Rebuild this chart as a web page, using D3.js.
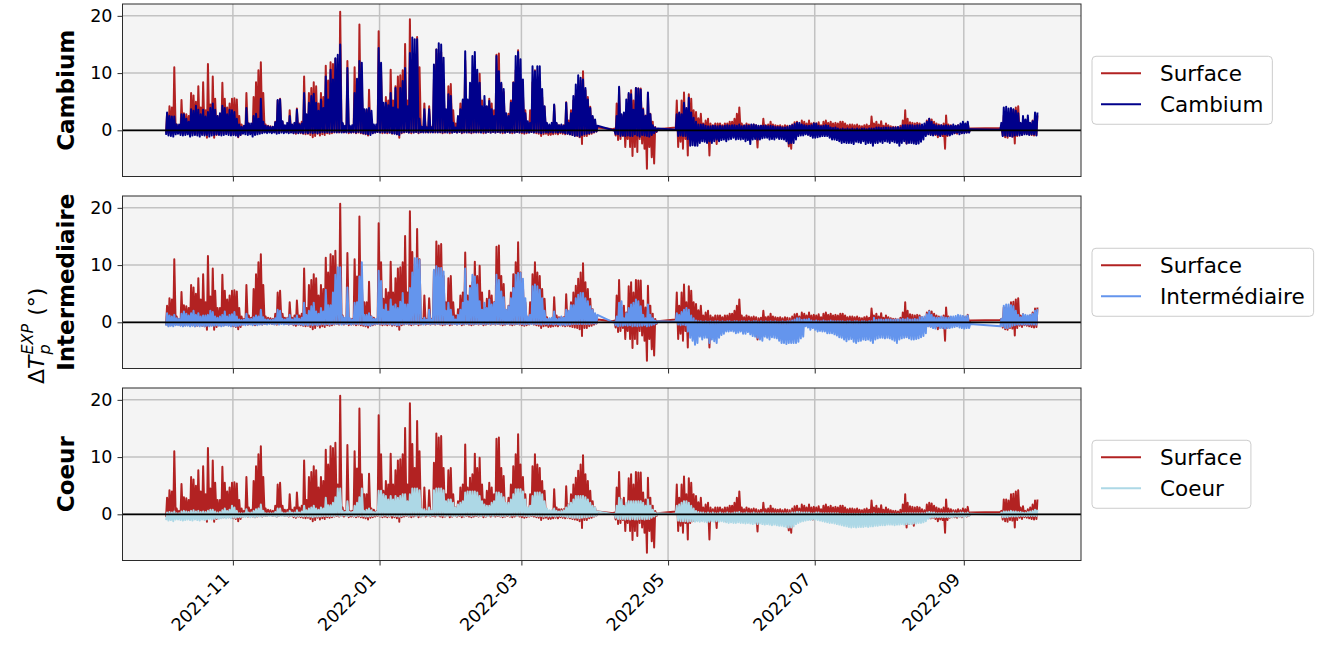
<!DOCTYPE html>
<html>
<head>
<meta charset="utf-8">
<script src="https://cdn.jsdelivr.net/npm/d3@7"></script>
<style>
  body { margin: 0; background: #ffffff; }
  text { font-family: "DejaVu Sans", sans-serif; }
</style>
</head>
<body>
<svg id="chart" width="1319" height="649"></svg>
<script>
// Daily extremes of the temperature difference (°) for each sensor depth,
// one value per day starting at startDate; null = no recording that day.
const startDate = "2021-10-04";

const surfaceMax = [
  2.9,4.2,4.0,11.0,1.0,0.6,5.3,3.0,2.8,2.5,
  6.5,6.1,5.0,7.7,4.0,8.4,3.5,11.6,4.5,9.4,
  5.5,2.5,2.5,8.3,5.5,4.0,4.7,5.5,5.6,5.4,
  2.5,1.0,0.6,6.5,1.2,0.8,5.8,8.4,10.5,11.9,
  6.5,1.0,0.8,0.7,0.6,1.5,5.2,5.5,1.5,0.8,
  0.8,3.5,0.8,1.2,3.8,1.2,1.5,9.4,2.5,6.5,
  7.4,8.4,7.7,4.7,6.5,5.8,11.3,8.7,11.9,11.6,
  12.5,5.2,20.7,1.2,0.6,12.1,0.6,0.6,11.0,8.0,
  18.5,7.0,3.5,3.5,7.1,1.0,0.8,0.5,17.3,10.5,
  4.1,5.8,5.2,10.6,5.2,7.7,9.4,9.6,10.5,15.1,
  5.2,19.4,12.3,8.1,16.3,11.0,0.6,4.7,0.6,4.2,
  0.6,9.0,14.1,13.4,13.7,8.1,3.5,7.7,8.1,3.5,
  1.2,2.3,4.7,5.2,12.2,4.7,6.4,7.0,10.6,8.1,
  9.9,5.2,2.6,4.1,5.5,4.7,3.5,13.2,13.4,8.1,
  6.7,1.7,2.9,5.2,8.4,10.5,14.0,8.7,6.5,3.5,
  0.6,3.5,8.4,10.5,8.7,8.1,5.8,4.1,0.9,0.4,
  0.6,4.4,1.2,0.9,0.9,0.9,4.9,1.7,3.5,5.2,
  6.4,7.6,8.7,10.3,7.0,5.8,4.1,2.3,1.2,0.5,
  null,null,null,null,null,null,0.3,4.7,7.4,2.6,
  2.9,1.7,6.3,7.0,5.2,7.4,7.3,7.3,3.8,2.6,
  6.4,2.9,1.5,0.6,0.2,null,null,null,null,null,
  null,null,5.2,2.9,5.2,6.6,3.5,6.3,5.5,3.5,
  3.2,2.1,2.9,1.2,1.7,2.0,1.2,0.9,1.2,1.2,
  1.2,0.9,1.2,1.2,1.5,1.5,2.0,2.9,4.0,1.2,
  0.9,1.2,1.0,0.9,1.0,0.9,0.7,0.8,2.0,0.9,
  1.0,1.5,1.0,0.9,0.8,0.9,0.7,0.9,0.8,0.7,
  1.0,1.4,1.5,1.0,1.7,1.5,1.2,1.7,1.2,1.3,
  1.2,1.4,0.9,1.5,1.7,1.3,1.5,1.2,1.3,1.2,
  1.5,1.5,1.2,0.9,1.0,1.0,0.9,1.0,0.8,0.7,
  0.9,1.0,0.8,2.4,1.2,1.5,1.0,1.6,0.8,1.2,
  0.9,0.7,0.6,0.6,0.5,0.8,1.7,3.5,2.0,1.4,
  1.3,1.2,1.3,1.2,0.9,0.7,1.7,2.0,1.9,1.5,
  1.2,1.0,0.9,1.2,2.6,1.0,0.9,0.7,0.7,0.9,
  0.7,1.0,0.9,1.3,0.3,null,null,null,null,null,
  null,null,null,null,null,null,null,0.6,2.6,2.6,
  2.4,3.5,3.6,4.0,4.2,1.2,1.4,0.6,0.9,1.2,
  1.7,2.4,2.6
];
const surfaceMin = [
  -0.5,-0.6,-0.4,-0.5,-0.4,-0.3,-0.5,-0.6,-0.5,-0.4,
  -0.6,-0.5,-0.7,-0.6,-0.5,-0.6,-0.7,-1.3,-0.6,-0.5,
  -1.3,-0.8,-0.5,-0.6,-0.5,-0.4,-0.5,-0.6,-0.7,-0.8,
  -1.2,-0.8,-0.4,-0.3,-0.4,-0.3,-0.4,-0.5,-0.4,-0.3,
  -0.4,-0.3,-0.3,-0.2,-0.3,-0.3,-0.4,-0.3,-0.2,-0.3,
  -0.3,-0.4,-0.3,-0.5,-0.6,-0.4,-0.5,-0.6,-0.7,-0.6,
  -0.8,-1.2,-1.0,-0.6,-0.9,-0.7,-0.8,-0.5,-0.6,-0.5,
  -0.4,-0.3,-0.4,-0.3,-0.4,-0.3,-0.5,-0.4,-0.4,-0.5,
  -0.4,-0.5,-0.6,-0.7,-0.9,-0.6,-0.5,-0.4,-0.3,-0.4,
  -0.5,-0.4,-0.5,-0.4,-0.6,-0.5,-0.7,-1.3,-0.5,-0.4,
  -0.3,-0.4,-0.5,-0.4,-0.3,-0.5,-0.4,-0.3,-0.4,-0.3,
  -0.4,-0.3,-0.4,-0.3,-0.4,-0.5,-0.4,-0.3,-0.5,-0.4,
  -0.3,-0.4,-0.3,-0.5,-0.4,-0.3,-0.4,-0.5,-0.4,-0.3,
  -0.4,-0.3,-0.5,-0.4,-0.3,-0.4,-0.3,-0.4,-0.3,-0.4,
  -0.5,-0.4,-0.3,-0.4,-0.5,-0.4,-0.3,-0.4,-0.5,-0.6,
  -0.5,-0.4,-0.3,-0.4,-0.5,-0.6,-1.0,-0.7,-0.6,-0.8,
  -0.8,-0.7,-0.6,-0.7,-0.5,-0.6,-0.7,-0.6,-0.7,-0.8,
  -0.9,-1.0,-1.2,-2.4,-1.0,-1.0,-0.7,-0.6,-0.4,-0.2,
  null,null,null,null,null,null,0.2,-0.9,-1.7,-1.5,
  -1.0,-2.9,-1.5,-2.9,-4.5,-2.9,-3.8,-1.5,-2.3,-3.2,
  -6.7,-2.9,-4.7,-5.8,-0.3,null,null,null,null,null,
  null,null,0.5,-2.9,-2.0,-3.2,-1.5,-4.4,-1.5,-1.2,
  -0.9,-1.0,-0.5,-1.0,-0.6,-0.8,-4.4,-0.8,-0.6,-2.4,
  -0.5,-0.4,-0.6,-1.2,-0.6,-0.5,-0.4,-0.5,-0.6,-0.5,
  -0.6,-0.4,-0.7,-0.5,-0.4,-0.6,-3.0,-0.5,-0.4,-0.5,
  -0.4,-0.6,-0.5,-0.4,-0.5,-0.6,-0.5,-0.7,-0.6,-2.8,
  -3.2,-0.7,-0.5,-0.4,-0.6,-0.5,-0.4,-0.7,-0.8,-0.9,
  -0.6,-0.5,-0.4,-0.4,-0.5,-0.4,-0.4,-0.5,-0.4,-0.5,
  -0.4,-0.3,-0.4,-0.3,-0.4,-0.3,-0.4,-0.3,-0.4,-0.3,
  -0.4,-0.3,-0.4,-0.3,-0.4,-0.3,-0.4,-0.3,-0.4,-0.5,
  -0.4,-0.5,-0.6,-0.5,-0.6,-0.8,-1.2,-0.9,-2.3,-1.7,
  -0.8,-2.0,-1.0,-0.9,-1.2,-0.8,-0.7,-0.6,-0.7,-0.6,
  -0.8,-1.2,-0.9,-1.0,-3.2,-1.0,-0.6,-0.5,-0.5,-0.6,
  -0.4,-0.5,-0.3,-0.4,-0.3,null,null,null,null,null,
  null,null,null,null,null,null,null,0.4,-0.9,-1.2,
  -1.3,-1.0,-1.1,-2.3,-1.0,-0.6,-0.8,-0.5,-0.6,-0.7,
  -0.8,-0.9,-0.8
];

const cambiumMax = [
  3.1,2.5,2.4,2.4,1.0,1.0,2.8,2.8,2.0,1.5,
  3.7,3.4,4.3,3.6,2.8,3.6,2.4,3.2,3.9,4.7,
  3.6,2.5,3.0,4.3,3.9,2.8,3.6,3.5,3.2,2.0,
  1.0,0.6,0.8,3.9,1.2,1.2,2.5,2.9,2.0,5.5,
  1.5,0.8,0.7,0.6,0.6,1.4,5.3,5.4,1.6,0.9,
  1.3,2.5,1.0,1.3,3.6,1.0,1.2,6.5,2.8,4.8,
  6.0,6.4,4.8,3.4,5.4,3.9,9.4,5.4,10.6,8.9,
  12.6,13.2,15.0,1.3,0.8,10.9,0.8,0.9,6.5,9.0,
  12.1,11.8,3.7,3.7,3.9,3.4,1.0,1.0,14.4,11.8,
  4.8,4.8,4.4,6.5,4.0,7.4,3.7,7.4,8.6,10.9,
  4.2,13.5,16.2,15.9,15.9,2.0,0.6,3.7,0.5,3.7,
  0.5,11.5,14.1,15.2,15.0,12.7,3.7,6.3,6.0,1.3,
  0.5,2.5,3.7,5.4,13.8,5.4,8.3,13.0,13.7,10.6,
  8.3,4.2,6.0,4.2,5.1,3.7,2.5,13.0,10.3,8.3,
  7.2,3.0,2.5,4.8,8.3,13.0,13.7,12.4,8.9,3.0,
  1.6,1.3,11.2,10.3,11.2,11.2,7.2,4.2,1.3,1.0,
  1.3,4.5,1.3,0.9,1.0,0.8,4.8,1.3,3.0,6.0,
  8.0,9.6,9.2,8.9,7.4,5.4,3.9,2.5,1.9,0.8,
  null,null,null,null,null,null,0.1,2.5,7.6,2.8,
  3.1,5.4,6.5,6.3,3.6,7.4,7.3,7.1,3.6,2.5,
  6.6,2.8,0.9,0.5,0.3,null,null,null,null,null,
  null,null,2.8,3.1,2.8,4.8,3.9,5.7,3.1,2.2,
  1.5,1.0,1.0,1.0,0.8,0.7,0.7,0.8,0.8,0.7,
  0.8,0.7,0.8,0.9,0.8,0.9,0.9,0.8,1.0,0.7,
  0.8,0.9,0.8,1.0,1.0,0.9,0.8,0.8,0.8,0.8,
  0.7,0.8,0.7,0.6,0.6,0.6,0.5,0.5,0.6,0.8,
  0.9,1.1,1.3,1.3,1.0,0.9,0.8,0.8,0.9,1.2,
  1.2,0.8,0.7,0.8,0.9,0.8,0.5,0.4,0.5,0.3,
  0.2,0.3,0.2,0.3,0.2,0.3,0.2,0.3,0.2,0.3,
  0.3,0.2,0.3,0.3,0.3,0.5,0.5,0.4,0.5,0.5,
  0.5,0.4,0.5,0.5,0.6,0.5,0.9,0.9,0.9,0.9,
  0.9,0.8,0.9,0.9,1.0,1.2,1.5,2.0,1.5,1.0,
  0.9,0.8,0.9,0.8,0.9,0.8,0.8,1.0,0.8,0.9,
  1.2,1.5,1.2,1.5,0.2,null,null,null,null,null,
  null,null,null,null,null,null,null,1.3,4.0,4.1,
  3.8,3.9,3.7,3.4,3.0,1.3,2.5,1.9,2.6,1.3,
  1.6,3.1,3.1
];
const cambiumMin = [
  -0.8,-0.9,-1.0,-1.1,-0.7,-0.6,-0.8,-0.9,-0.8,-0.7,
  -1.1,-0.9,-0.8,-0.9,-1.1,-0.8,-0.9,-0.8,-1.1,-0.9,
  -0.8,-0.7,-0.8,-0.9,-0.8,-0.7,-0.8,-0.9,-0.8,-0.9,
  -1.1,-0.8,-0.6,-0.7,-0.8,-0.7,-1.1,-0.8,-0.7,-0.6,
  -0.5,-0.4,-0.5,-0.4,-0.5,-0.4,-0.6,-0.5,-0.4,-0.5,
  -0.4,-0.5,-0.4,-0.5,-0.4,-0.5,-0.4,-0.5,-0.4,-0.5,
  -0.4,-0.5,-0.4,-0.5,-0.4,-0.3,-0.4,-0.3,-0.4,-0.3,
  -0.3,-0.4,-0.3,-0.4,-0.3,-0.4,-0.3,-0.4,-0.3,-0.4,
  -0.3,-0.4,-0.5,-0.6,-0.7,-0.8,-0.5,-0.4,-0.3,-0.4,
  -0.3,-0.4,-0.3,-0.4,-0.5,-0.6,-0.7,-0.8,-0.4,-0.3,
  -0.3,-0.4,-0.3,-0.4,-0.3,-0.4,-0.3,-0.4,-0.3,-0.4,
  -0.3,-0.4,-0.3,-0.4,-0.3,-0.4,-0.3,-0.4,-0.3,-0.4,
  -0.3,-0.4,-0.3,-0.4,-0.3,-0.4,-0.3,-0.4,-0.3,-0.4,
  -0.3,-0.4,-0.3,-0.4,-0.3,-0.4,-0.3,-0.4,-0.3,-0.4,
  -0.3,-0.4,-0.3,-0.4,-0.3,-0.4,-0.3,-0.4,-0.3,-0.4,
  -0.3,-0.4,-0.3,-0.4,-0.3,-0.4,-0.5,-0.4,-0.3,-0.4,
  -0.3,-0.4,-0.3,-0.4,-0.3,-0.4,-0.5,-0.6,-0.7,-0.8,
  -1.0,-0.9,-1.1,-0.8,-0.7,-0.6,-0.5,-0.4,-0.3,-0.2,
  null,null,null,null,null,null,0.0,-0.7,-0.7,-1.0,
  -0.9,-1.0,-0.9,-1.0,-1.0,-0.7,-0.9,-1.1,-0.8,-0.9,
  -1.0,-1.1,-0.8,-0.5,-0.2,null,null,null,null,null,
  null,null,0.1,-1.0,-0.9,-1.0,-1.0,-1.5,-2.7,-2.6,
  -2.7,-2.7,-2.2,-1.9,-2.0,-2.2,-1.9,-2.2,-1.9,-1.6,
  -1.9,-1.7,-1.6,-1.9,-1.6,-1.5,-1.3,-1.6,-1.5,-1.6,
  -1.5,-1.9,-1.7,-2.4,-1.6,-1.5,-1.6,-1.6,-1.4,-1.3,
  -1.3,-1.6,-1.5,-1.6,-1.3,-1.5,-1.5,-1.6,-1.9,-2.3,
  -2.2,-2.2,-1.6,-1.0,-0.9,-0.9,-0.7,-0.8,-1.0,-1.3,
  -1.3,-1.2,-1.1,-1.0,-1.0,-1.0,-1.3,-1.6,-1.6,-1.7,
  -1.9,-2.2,-2.1,-2.2,-2.2,-2.2,-2.4,-2.0,-2.1,-2.2,
  -1.9,-2.4,-2.2,-2.2,-2.7,-2.2,-2.2,-2.0,-2.2,-1.9,
  -2.0,-2.2,-1.9,-2.1,-2.2,-2.7,-2.2,-1.9,-2.3,-2.2,
  -2.2,-2.3,-2.4,-2.3,-2.0,-1.6,-1.0,-0.7,-0.8,-0.9,
  -0.7,-0.8,-1.0,-0.7,-0.7,-0.8,-0.9,-0.7,-0.5,-0.4,
  -0.7,-0.5,-0.5,-0.4,-0.4,null,null,null,null,null,
  null,null,null,null,null,null,null,0.1,-1.0,-0.9,
  -1.0,-1.0,-1.1,-0.9,-0.8,-0.9,-0.8,-0.7,-0.7,-0.8,
  -0.7,-0.7,-0.9
];

const intermediateMax = [
  1.6,1.2,1.0,1.3,0.7,0.6,1.5,1.9,1.5,1.2,
  1.6,2.0,1.3,1.6,1.0,1.2,1.2,1.3,2.0,1.8,
  1.0,0.8,1.0,1.3,1.9,1.0,1.3,1.4,1.8,1.0,
  0.5,0.4,0.5,1.5,0.6,0.6,0.9,1.2,1.0,2.2,
  0.9,0.5,0.5,0.4,0.5,0.7,2.2,2.0,0.6,0.5,
  0.7,1.3,0.5,0.7,1.2,0.6,0.8,3.4,1.3,2.0,
  2.8,3.4,1.9,1.5,2.5,1.9,5.7,3.0,3.0,5.2,
  8.3,9.6,9.6,1.0,0.8,6.1,0.7,0.5,3.4,3.5,
  8.0,10.5,1.3,1.3,1.6,1.0,0.6,0.6,9.0,7.2,
  2.2,3.1,1.9,4.0,2.8,3.1,2.5,3.6,5.1,3.1,
  3.1,6.0,8.7,11.2,11.2,10.9,0.5,0.8,0.5,2.2,
  0.5,9.2,9.8,9.5,9.5,8.9,2.0,3.4,2.2,1.0,
  0.5,1.3,2.2,3.4,9.4,3.7,6.0,8.3,8.0,6.6,
  3.7,2.2,3.4,2.5,4.0,3.1,3.4,8.3,7.4,5.4,
  4.4,2.2,2.8,4.2,6.0,8.3,8.6,8.6,7.6,4.2,
  1.0,1.3,6.3,6.6,6.3,5.7,4.2,2.0,0.6,0.7,
  0.8,1.9,0.6,0.7,1.0,0.8,2.2,2.0,3.0,3.0,
  4.2,4.8,5.1,5.1,4.2,3.7,2.8,2.2,1.6,1.3,
  null,null,null,null,null,null,0.1,1.0,3.4,3.7,
  0.7,1.6,2.5,3.1,3.4,4.0,3.7,2.8,1.3,0.7,
  3.1,1.3,0.7,0.3,0.2,null,null,null,null,null,
  null,null,1.6,1.3,1.8,2.2,2.5,2.2,1.2,0.7,
  0.3,0.2,0.2,0.1,0.2,0.1,0.2,0.1,0.2,0.2,
  0.1,0.2,0.1,0.2,0.2,0.1,0.2,0.2,0.1,0.2,
  0.2,0.1,0.2,0.1,0.2,0.2,0.1,0.2,0.1,0.2,
  0.1,0.2,0.1,0.2,0.1,0.1,0.2,0.1,0.2,0.2,
  0.3,0.5,0.7,0.7,0.4,0.5,0.5,0.6,0.3,0.2,
  0.3,0.2,0.2,0.3,0.2,0.2,0.3,0.2,0.2,0.2,
  0.2,0.2,0.1,0.2,0.2,0.1,0.2,0.2,0.1,0.2,
  0.2,0.1,0.2,0.2,0.8,0.4,0.5,0.5,0.4,0.5,
  0.5,0.5,0.4,0.5,0.5,0.5,0.6,0.5,0.7,0.5,
  0.5,0.6,0.5,0.9,0.9,1.0,1.4,1.9,1.3,0.9,
  0.8,0.8,1.0,0.9,0.8,0.8,1.0,1.0,1.1,1.3,
  1.2,1.1,1.0,1.2,-0.3,null,null,null,null,null,
  null,null,null,null,null,null,null,0.6,2.9,3.1,
  3.1,3.0,2.8,2.0,1.3,0.9,1.4,1.3,1.2,1.3,
  1.5,2.0,2.3
];
const intermediateMin = [
  -0.6,-0.7,-0.6,-0.7,-0.5,-0.5,-0.6,-0.7,-0.6,-0.6,
  -0.7,-0.6,-0.7,-0.6,-0.7,-0.6,-0.7,-0.6,-0.7,-0.6,
  -0.6,-0.5,-0.6,-0.7,-0.6,-0.5,-0.6,-0.7,-0.6,-0.7,
  -0.6,-0.5,-0.4,-0.5,-0.4,-0.4,-0.5,-0.4,-0.5,-0.4,
  -0.4,-0.3,-0.4,-0.3,-0.3,-0.4,-0.3,-0.4,-0.3,-0.4,
  -0.3,-0.4,-0.3,-0.4,-0.3,-0.4,-0.4,-0.5,-0.4,-0.5,
  -0.4,-0.5,-0.4,-0.5,-0.4,-0.3,-0.4,-0.3,-0.4,-0.3,
  -0.3,-0.3,-0.3,-0.4,-0.3,-0.3,-0.3,-0.4,-0.3,-0.3,
  -0.3,-0.3,-0.4,-0.5,-0.5,-0.6,-0.4,-0.3,-0.3,-0.3,
  -0.3,-0.3,-0.3,-0.3,-0.4,-0.4,-0.5,-0.5,-0.3,-0.3,
  -0.3,-0.3,-0.3,-0.3,-0.3,-0.3,-0.3,-0.4,-0.3,-0.3,
  -0.3,-0.3,-0.3,-0.3,-0.3,-0.3,-0.3,-0.3,-0.3,-0.3,
  -0.3,-0.4,-0.3,-0.3,-0.3,-0.3,-0.3,-0.3,-0.3,-0.3,
  -0.3,-0.3,-0.3,-0.3,-0.3,-0.3,-0.3,-0.3,-0.3,-0.3,
  -0.3,-0.3,-0.3,-0.3,-0.3,-0.3,-0.3,-0.3,-0.3,-0.4,
  -0.3,-0.3,-0.3,-0.3,-0.3,-0.3,-0.4,-0.3,-0.3,-0.4,
  -0.3,-0.4,-0.3,-0.4,-0.5,-0.4,-0.5,-0.4,-0.4,-0.3,
  -0.3,-0.3,-0.3,-0.3,-0.3,-0.3,-0.3,-0.2,-0.2,-0.2,
  null,null,null,null,null,null,0.0,-0.5,-0.7,-0.6,
  -0.6,-0.5,-0.6,-0.5,-0.7,-0.6,-0.7,-0.6,-0.6,-0.5,
  -0.7,-0.6,-0.5,-0.4,-0.2,null,null,null,null,null,
  null,null,0.1,-0.4,-0.5,-0.4,-0.5,-1.6,-2.7,-3.2,
  -3.9,-3.6,-2.5,-3.0,-2.7,-2.7,-3.6,-3.0,-3.3,-3.6,
  -2.7,-2.2,-2.0,-1.6,-1.6,-1.5,-1.6,-1.9,-1.8,-1.6,
  -2.0,-2.0,-1.7,-2.1,-2.4,-2.5,-2.7,-3.0,-3.2,-2.5,
  -2.7,-3.0,-2.6,-2.7,-2.8,-3.2,-3.6,-3.6,-3.8,-3.6,
  -3.6,-3.6,-3.6,-3.4,-2.8,-2.5,-0.7,-0.9,-1.3,-1.0,
  -1.3,-1.6,-1.5,-1.6,-1.6,-1.9,-1.9,-1.9,-2.1,-2.3,
  -2.6,-2.7,-3.0,-3.3,-3.0,-2.9,-3.4,-3.6,-3.3,-3.2,
  -3.0,-3.1,-3.0,-3.2,-3.6,-3.0,-2.8,-2.7,-2.7,-2.8,
  -2.7,-2.8,-3.0,-3.2,-3.6,-3.0,-2.8,-2.7,-2.6,-2.8,
  -3.0,-3.0,-2.9,-2.8,-2.6,-2.4,-1.9,-0.7,-0.8,-1.0,
  -1.1,-0.7,-1.0,-1.0,-1.1,-1.0,-1.0,-0.9,-0.8,-0.7,
  -0.9,-1.0,-1.1,-1.0,-1.0,null,null,null,null,null,
  null,null,null,null,null,null,null,-0.7,-0.7,-1.0,
  -1.0,-0.8,-0.6,-0.5,-0.4,-0.4,-0.4,-0.4,-0.4,-0.4,
  -0.4,-0.4,-0.4
];

const coeurMax = [
  0.3,0.4,0.3,0.5,0.2,0.2,0.5,0.6,0.5,0.4,
  0.6,0.7,0.5,0.6,0.4,0.5,0.4,0.6,0.8,0.8,
  0.5,0.3,0.4,0.7,1.0,0.6,0.8,1.5,1.2,0.6,
  0.2,0.2,0.2,0.9,0.3,0.3,0.6,0.9,1.0,1.7,
  0.6,0.2,0.2,0.2,0.2,0.4,1.0,1.0,0.3,0.2,
  0.3,0.6,0.3,0.3,0.7,0.3,0.5,1.5,0.7,1.0,
  1.2,1.5,1.0,0.8,1.2,1.0,2.9,1.6,1.6,2.0,
  3.0,4.5,4.5,0.6,0.4,2.3,0.4,0.4,1.5,2.0,
  3.0,4.5,0.6,0.8,1.0,0.7,0.4,0.4,4.1,4.1,
  3.5,3.2,2.6,3.2,2.6,3.2,2.9,3.2,3.5,3.5,
  2.3,3.5,4.5,4.5,4.5,4.2,0.9,0.9,0.6,1.2,
  0.6,4.2,4.5,4.5,4.5,4.2,2.3,2.6,2.6,2.0,
  1.2,1.7,2.0,2.3,3.8,4.0,4.0,4.0,4.0,3.8,
  3.2,2.3,1.7,1.5,1.5,2.0,2.3,3.8,3.8,3.6,
  3.0,2.0,2.0,2.6,3.5,4.4,4.4,4.4,4.0,2.6,
  1.2,1.5,3.2,3.8,3.8,3.8,3.5,2.3,1.0,0.7,
  0.7,1.0,0.6,0.5,0.6,0.7,1.2,1.7,2.0,2.6,
  3.2,3.2,3.2,3.2,3.0,2.6,2.0,1.5,1.2,0.5,
  null,null,null,null,null,null,0.1,1.5,2.9,2.6,
  1.5,2.0,2.3,2.3,2.3,2.3,2.3,2.3,2.0,1.5,
  2.6,1.5,0.8,0.3,0.2,null,null,null,null,null,
  null,null,1.5,1.7,2.0,2.3,2.3,2.0,1.5,1.0,
  0.6,0.4,0.3,0.3,0.2,0.3,0.2,0.3,0.2,0.2,
  0.3,0.2,0.2,0.3,0.2,0.2,0.3,0.3,0.4,0.2,
  0.2,0.3,0.2,0.2,0.3,0.2,0.2,0.2,0.3,0.2,
  0.2,0.2,0.2,0.2,0.2,0.2,0.2,0.2,0.2,0.2,
  0.3,0.3,0.4,0.4,0.3,0.3,0.3,0.3,0.2,0.2,
  0.3,0.3,0.2,0.2,0.2,0.2,0.2,0.2,0.2,0.2,
  0.1,0.1,0.1,0.1,0.1,0.1,0.1,0.1,0.1,0.1,
  0.1,0.1,0.1,0.1,0.2,0.1,0.1,0.1,0.1,0.1,
  0.1,0.1,0.1,0.1,0.1,0.1,0.2,0.2,0.2,0.2,
  0.2,0.2,0.2,0.2,0.2,0.2,0.3,0.4,0.3,0.3,
  0.2,0.2,0.2,0.2,0.2,0.2,0.2,0.3,0.2,0.2,
  0.3,0.3,0.2,0.3,0.1,null,null,null,null,null,
  null,null,null,null,null,null,null,0.3,0.5,0.5,
  0.5,0.6,0.5,0.5,0.4,0.4,0.3,0.3,0.4,0.5,
  0.6,0.8,0.8
];
const coeurMin = [
  -1.0,-1.1,-1.0,-1.2,-0.9,-0.9,-1.0,-1.1,-1.0,-0.9,
  -1.0,-1.1,-0.9,-1.0,-1.1,-0.9,-1.0,-0.9,-0.8,-0.9,
  -0.8,-0.7,-0.8,-0.7,-0.6,-0.7,-0.6,-0.7,-0.6,-0.6,
  -0.5,-0.5,-0.4,-0.5,-0.4,-0.5,-0.4,-0.5,-0.4,-0.4,
  -0.4,-0.3,-0.3,-0.3,-0.3,-0.3,-0.4,-0.3,-0.3,-0.3,
  -0.3,-0.3,-0.3,-0.3,-0.4,-0.3,-0.3,-0.4,-0.3,-0.4,
  -0.4,-0.5,-0.4,-0.4,-0.4,-0.3,-0.3,-0.3,-0.3,-0.3,
  -0.3,-0.2,-0.3,-0.3,-0.2,-0.3,-0.3,-0.2,-0.3,-0.3,
  -0.2,-0.3,-0.3,-0.4,-0.4,-0.3,-0.3,-0.2,-0.2,-0.3,
  -0.3,-0.2,-0.3,-0.3,-0.2,-0.3,-0.3,-0.4,-0.3,-0.2,
  -0.2,-0.3,-0.2,-0.2,-0.3,-0.2,-0.3,-0.3,-0.2,-0.3,
  -0.3,-0.2,-0.2,-0.3,-0.2,-0.2,-0.3,-0.3,-0.2,-0.3,
  -0.3,-0.3,-0.2,-0.2,-0.3,-0.2,-0.2,-0.3,-0.2,-0.2,
  -0.3,-0.3,-0.2,-0.3,-0.3,-0.2,-0.3,-0.2,-0.2,-0.3,
  -0.3,-0.3,-0.2,-0.3,-0.2,-0.2,-0.3,-0.2,-0.2,-0.3,
  -0.3,-0.3,-0.2,-0.2,-0.3,-0.3,-0.3,-0.4,-0.3,-0.4,
  -0.4,-0.3,-0.4,-0.3,-0.3,-0.4,-0.4,-0.5,-0.5,-0.6,
  -0.6,-0.6,-0.7,-0.6,-0.5,-0.5,-0.4,-0.3,-0.3,-0.2,
  null,null,null,null,null,null,0.0,-0.6,-0.8,-0.8,
  -0.8,-0.9,-0.8,-0.9,-0.8,-0.9,-0.9,-0.8,-0.8,-0.9,
  -0.8,-0.8,-0.6,-0.4,-0.2,null,null,null,null,null,
  null,null,0.0,-1.1,-1.2,-1.2,-1.2,-1.3,-1.2,-1.2,
  -1.3,-1.2,-1.3,-1.2,-1.3,-1.4,-1.3,-1.2,-1.3,-1.2,
  -1.3,-1.2,-1.3,-1.4,-1.5,-1.4,-1.5,-1.5,-1.4,-1.5,
  -1.5,-1.6,-1.5,-1.6,-1.7,-1.6,-1.7,-1.6,-1.7,-1.8,
  -1.7,-1.8,-1.9,-1.8,-1.9,-2.0,-2.0,-2.1,-2.2,-2.3,
  -2.3,-2.1,-1.7,-1.5,-1.3,-1.2,-1.1,-1.0,-1.0,-0.9,
  -0.9,-1.0,-1.1,-1.2,-1.3,-1.4,-1.5,-1.5,-1.6,-1.7,
  -1.8,-1.9,-2.0,-2.1,-2.2,-2.3,-2.2,-2.3,-2.2,-2.2,
  -2.2,-2.1,-2.2,-2.1,-2.1,-2.0,-2.0,-1.9,-1.9,-1.9,
  -1.8,-1.8,-1.8,-1.9,-1.8,-1.8,-1.7,-1.8,-1.7,-1.7,
  -1.7,-1.6,-1.6,-1.5,-1.5,-1.4,-1.2,-0.8,-0.6,-0.5,
  -0.5,-0.5,-0.5,-0.5,-0.5,-0.5,-0.5,-0.5,-0.4,-0.4,
  -0.4,-0.4,-0.4,-0.3,-0.3,null,null,null,null,null,
  null,null,null,null,null,null,null,-0.1,-0.5,-0.5,
  -0.5,-0.4,-0.4,-0.4,-0.4,-0.3,-0.3,-0.3,-0.3,-0.3,
  -0.3,-0.3,-0.3
];

const yTickValues = [0, 10, 20];
const panelLabels = ["Cambium", "Intermediaire", "Coeur"];
const seriesNames = ["Surface", "Cambium", "Intermédiaire", "Coeur"];

// ---- layout ----
const svg = d3.select("#chart");
const plotLeft = 122.5, plotRight = 1081;
const panelTops = [4, 196, 388];
const panelH = 172.5;
const FONT = "DejaVu Sans";

const colors = {
  surface: "#b22222",
  cambium: "#00008b",
  intermediate: "#6495ed",
  coeur: "#add8e6"
};

const day0 = d3.utcParse("%Y-%m-%d")(startDate);

// Each day contributes a night minimum followed by a daytime maximum.
function toPoints(minArr, maxArr) {
  const pts = [];
  minArr.forEach((lo, i) => {
    const hi = maxArr[i];
    if (lo == null || hi == null) return;
    const d = d3.utcDay.offset(day0, i);
    pts.push({ t: d3.utcHour.offset(d, 5), v: lo });
    pts.push({ t: d3.utcHour.offset(d, 15), v: hi });
  });
  return pts;
}

const surfacePts = toPoints(surfaceMin, surfaceMax);
const panels = [
  { label: panelLabels[0], name: seriesNames[1], color: colors.cambium, pts: toPoints(cambiumMin, cambiumMax) },
  { label: panelLabels[1], name: seriesNames[2], color: colors.intermediate, pts: toPoints(intermediateMin, intermediateMax) },
  { label: panelLabels[2], name: seriesNames[3], color: colors.coeur, pts: toPoints(coeurMin, coeurMax) }
];

// x domain: data extent with 5% margins on both sides
const tExt = d3.extent(surfacePts, d => d.t);
const tSpan = tExt[1] - tExt[0];
const x = d3.scaleUtc()
  .domain([new Date(+tExt[0] - 0.05 * tSpan), new Date(+tExt[1] + 0.05 * tSpan)])
  .range([plotLeft, plotRight]);

// shared y domain with 5% margins
const allV = surfacePts.concat(...panels.map(p => p.pts)).map(d => d.v);
const vExt = d3.extent(allV);
const vSpan = vExt[1] - vExt[0];
const yDomain = [vExt[0] - 0.05 * vSpan, vExt[1] + 0.05 * vSpan];

const xTicks = x.ticks(d3.utcMonth.every(2));
const fmt = d3.utcFormat("%Y-%m");

panels.forEach((p, idx) => {
  const top = panelTops[idx];
  const g = svg.append("g").attr("transform", `translate(0,${top})`);
  const y = d3.scaleLinear().domain(yDomain).range([panelH, 0]);

  g.append("rect")
    .attr("x", plotLeft).attr("y", 0)
    .attr("width", plotRight - plotLeft).attr("height", panelH)
    .attr("fill", "#f4f4f4");

  const clipId = "clip" + idx;
  g.append("clipPath").attr("id", clipId)
    .append("rect")
    .attr("x", plotLeft).attr("y", 0)
    .attr("width", plotRight - plotLeft).attr("height", panelH);

  // grid
  const grid = g.append("g").attr("clip-path", `url(#${clipId})`);
  grid.selectAll("line.gx").data(xTicks).join("line")
    .attr("x1", d => x(d)).attr("x2", d => x(d))
    .attr("y1", 0).attr("y2", panelH)
    .attr("stroke", "#c2c2c2").attr("stroke-width", 1.5);
  grid.selectAll("line.gy").data(yTickValues).join("line")
    .attr("x1", plotLeft).attr("x2", plotRight)
    .attr("y1", d => y(d)).attr("y2", d => y(d))
    .attr("stroke", "#c2c2c2").attr("stroke-width", 1.5);

  const line = d3.line().x(d => x(d.t)).y(d => y(d.v));
  const plot = g.append("g").attr("clip-path", `url(#${clipId})`);
  plot.append("path").datum(surfacePts)
    .attr("d", line).attr("fill", "none")
    .attr("stroke", colors.surface).attr("stroke-width", 2)
    .attr("stroke-linejoin", "round");
  plot.append("path").datum(p.pts)
    .attr("d", line).attr("fill", "none")
    .attr("stroke", p.color).attr("stroke-width", 2)
    .attr("stroke-linejoin", "round");

  // zero reference line
  g.append("line")
    .attr("x1", plotLeft).attr("x2", plotRight)
    .attr("y1", y(0)).attr("y2", y(0))
    .attr("stroke", "#000").attr("stroke-width", 1.8);

  // frame
  g.append("rect")
    .attr("x", plotLeft).attr("y", 0)
    .attr("width", plotRight - plotLeft).attr("height", panelH)
    .attr("fill", "none").attr("stroke", "#2b2b2b").attr("stroke-width", 1);

  // y axis
  const ya = g.append("g")
    .attr("transform", `translate(${plotLeft},0)`)
    .call(d3.axisLeft(y).tickValues(yTickValues).tickSize(5).tickPadding(5));
  ya.select(".domain").remove();
  ya.selectAll("line").attr("stroke", "#2b2b2b");
  ya.selectAll("text").attr("font-family", FONT).attr("font-size", 17.5).attr("fill", "#000");

  // x axis
  const xa = g.append("g")
    .attr("transform", `translate(0,${panelH})`)
    .call(d3.axisBottom(x).tickValues(xTicks).tickSize(5).tickFormat(fmt));
  xa.select(".domain").remove();
  xa.selectAll("line").attr("stroke", "#2b2b2b");
  if (idx === panels.length - 1) {
    xa.selectAll("text")
      .attr("font-family", FONT).attr("font-size", 17.5).attr("fill", "#000")
      .attr("x", 0).attr("y", 0).attr("dy", 0)
      .attr("text-anchor", "end")
      .attr("transform", "translate(-3,20) rotate(-45)");
  } else {
    xa.selectAll("text").remove();
  }

  // panel label
  g.append("text")
    .attr("transform", `translate(74,${panelH / 2}) rotate(-90)`)
    .attr("text-anchor", "middle")
    .attr("font-family", FONT).attr("font-weight", "bold").attr("font-size", 23)
    .text(p.label);

  // legend
  const lg = g.append("g");
  const boxX = 1092, rowY = [panelH / 2 - 17, panelH / 2 + 14];
  const box = lg.append("rect")
    .attr("x", boxX).attr("y", panelH / 2 - 34)
    .attr("height", 68).attr("rx", 4)
    .attr("fill", "#ffffff").attr("fill-opacity", 0.8)
    .attr("stroke", "#cccccc").attr("stroke-width", 1);
  const entries = [{ name: seriesNames[0], color: colors.surface }, { name: p.name, color: p.color }];
  let maxW = 0;
  entries.forEach((e, k) => {
    lg.append("line")
      .attr("x1", boxX + 9).attr("x2", boxX + 49)
      .attr("y1", rowY[k]).attr("y2", rowY[k])
      .attr("stroke", e.color).attr("stroke-width", 2);
    const t = lg.append("text")
      .attr("x", boxX + 68).attr("y", rowY[k])
      .attr("dy", "0.36em")
      .attr("font-family", FONT).attr("font-size", 21.5)
      .text(e.name);
    maxW = Math.max(maxW, t.node().getComputedTextLength());
  });
  box.attr("width", 68 + maxW + 9);
});

// shared y label: ΔT_p^EXP (°)
const yl = svg.append("g").attr("transform", "translate(44,384) rotate(-90)");
const base = yl.append("text").attr("font-family", FONT).attr("font-size", 22).attr("x", 0).attr("y", 0);
base.append("tspan").text("Δ");
base.append("tspan").attr("font-style", "italic").text("T");
const wBase = base.node().getComputedTextLength();
const sup = yl.append("text").attr("font-family", FONT).attr("font-size", 16).attr("font-style", "italic")
  .attr("x", wBase + 1).attr("y", -11).text("EXP");
yl.append("text").attr("font-family", FONT).attr("font-size", 16).attr("font-style", "italic")
  .attr("x", wBase + 1).attr("y", 6).text("p");
const wSup = sup.node().getComputedTextLength();
yl.append("text").attr("font-family", FONT).attr("font-size", 22)
  .attr("x", wBase + wSup + 9).attr("y", 0).text("(°)");
</script>
</body>
</html>
